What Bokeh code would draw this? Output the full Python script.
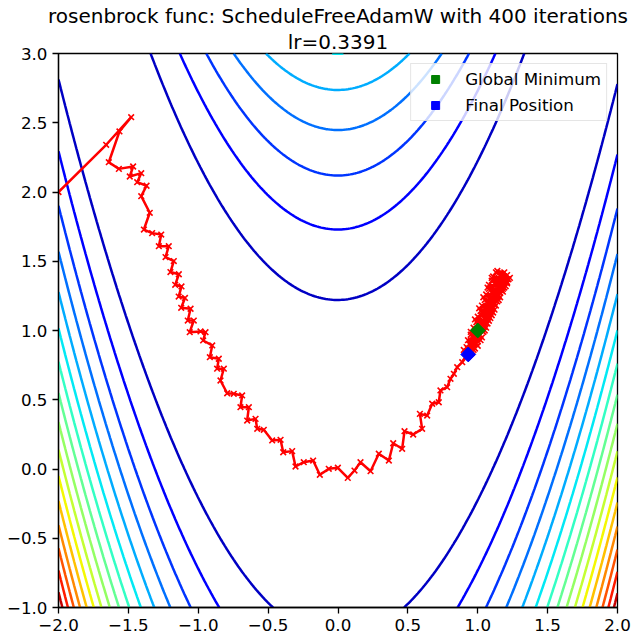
import numpy as np
from bokeh.plotting import figure
from bokeh.models import Range1d, FixedTicker, Title, Legend, LegendItem
from bokeh.embed import file_html
from bokeh.resources import INLINE

# ---------------- data ----------------
x_ticks = [-2.0, -1.5, -1.0, -0.5, 0.0, 0.5, 1.0, 1.5, 2.0]
x_tick_labels = ["\u22122.0", "\u22121.5", "\u22121.0", "\u22120.5", "0.0", "0.5", "1.0", "1.5", "2.0"]
y_ticks = [-1.0, -0.5, 0.0, 0.5, 1.0, 1.5, 2.0, 2.5, 3.0]
y_tick_labels = ["\u22121.0", "\u22120.5", "0.0", "0.5", "1.0", "1.5", "2.0", "2.5", "3.0"]

contour_levels = [150, 300, 450, 600, 750, 900, 1050, 1200, 1350, 1500,
                  1650, 1800, 1950, 2100, 2250, 2400]
level_norm_min = 0
level_norm_max = 2550

path_x = [-2.000, -1.659, -1.480, -1.564, -1.640, -1.568, -1.466, -1.490, -1.408, -1.437,
          -1.370, -1.408, -1.347, -1.389, -1.330, -1.265, -1.282, -1.211, -1.234, -1.175,
          -1.199, -1.139, -1.165, -1.120, -1.140, -1.095, -1.122, -1.055, -1.075, -1.032,
          -1.061, -0.984, -0.948, -0.965, -0.900, -0.917, -0.853, -0.865, -0.817, -0.841,
          -0.793, -0.746, -0.686, -0.698, -0.638, -0.650, -0.590, -0.578, -0.531, -0.471,
          -0.411, -0.392, -0.328, -0.304, -0.245, -0.178, -0.130, -0.066, -0.001, 0.070,
          0.118, 0.161, 0.233, 0.292, 0.364, 0.395, 0.459, 0.476, 0.538, 0.602,
          0.586, 0.638, 0.674, 0.721, 0.733, 0.781, 0.805, 0.829, 0.853, 0.889,
          0.912,
          0.90, 0.97, 0.93, 1.01, 0.97, 1.05, 1.00, 1.09, 1.03, 1.12,
          1.06, 1.16, 1.08, 1.20, 1.11, 1.22, 1.14, 1.19,
          1.17, 1.21, 1.13, 1.18, 1.10, 1.15, 1.07, 1.12, 1.04, 1.09,
          1.01, 1.06, 0.98, 1.03, 0.95, 1.00, 0.93, 0.96, 0.95,
          0.92, 0.99, 0.95, 1.02, 0.98, 1.06, 1.01, 1.09, 1.04, 1.13,
          1.07, 1.16, 1.10, 1.19, 1.13, 1.21,
          1.17, 1.20, 1.14, 1.17, 1.11, 1.14, 1.08, 1.11, 1.05, 1.08,
          1.02, 1.05, 0.99, 1.02, 0.96, 0.98, 0.93,
          0.99, 0.95, 1.03, 0.99, 1.07, 1.02, 1.10, 1.05, 1.14, 1.08,
          1.18, 1.10, 1.21, 1.16, 1.23,
          1.15, 1.19, 1.12, 1.16, 1.09, 1.13, 1.06, 1.10, 1.03, 1.07,
          1.00, 1.04, 0.97, 1.00, 0.94, 0.97, 0.932]
path_y = [2.000, 2.341, 2.540, 2.437, 2.215, 2.167, 2.184, 2.112, 2.136, 2.071,
          2.045, 1.970, 1.850, 1.729, 1.703, 1.693, 1.609, 1.609, 1.530, 1.501,
          1.422, 1.406, 1.330, 1.318, 1.245, 1.235, 1.164, 1.157, 1.072, 1.072,
          0.988, 0.993, 0.988, 0.928, 0.892, 0.807, 0.796, 0.724, 0.724, 0.639,
          0.547, 0.543, 0.531, 0.446, 0.446, 0.350, 0.362, 0.290, 0.283, 0.206,
          0.211, 0.121, 0.129, 0.018, 0.049, 0.061, -0.042, 0.001, 0.009, -0.064,
          -0.011, 0.049, -0.016, 0.110, 0.061, 0.186, 0.146, 0.273, 0.249, 0.290,
          0.398, 0.386, 0.471, 0.482, 0.567, 0.591, 0.651, 0.687, 0.735, 0.771,
          0.807,
          0.86, 0.88, 0.93, 0.96, 1.02, 1.05, 1.10, 1.13, 1.18, 1.20,
          1.26, 1.27, 1.33, 1.32, 1.39, 1.37, 1.43, 1.42,
          1.36, 1.34, 1.33, 1.28, 1.27, 1.22, 1.21, 1.15, 1.14, 1.09,
          1.07, 1.02, 1.00, 0.95, 0.93, 0.89, 0.87, 0.85, 0.86,
          0.88, 0.94, 0.99, 1.03, 1.08, 1.12, 1.16, 1.19, 1.24, 1.27,
          1.31, 1.33, 1.38, 1.39, 1.42, 1.40,
          1.41, 1.36, 1.35, 1.29, 1.28, 1.21, 1.20, 1.13, 1.13, 1.07,
          1.06, 1.00, 0.99, 0.93, 0.92, 0.87, 0.85,
          0.91, 0.97, 1.00, 1.06, 1.09, 1.14, 1.17, 1.22, 1.24, 1.30,
          1.30, 1.36, 1.35, 1.40, 1.38,
          1.38, 1.31, 1.30, 1.24, 1.24, 1.18, 1.17, 1.11, 1.11, 1.05,
          1.04, 0.99, 0.97, 0.92, 0.90, 0.86, 0.827]

global_min_x = [1.0]
global_min_y = [1.0]
final_x = [0.932]
final_y = [0.827]

title_line1 = "rosenbrock func: ScheduleFreeAdamW with 400 iterations"
title_line2 = "lr=0.3391"

# Rosenbrock surface on a grid (the function being contoured)
grid_x = np.linspace(-2, 2, 250)
grid_y = np.linspace(-1, 3, 250)
GX, GY = np.meshgrid(grid_x, grid_y)
GZ = (1 - GX) ** 2 + 100 * (GY - GX ** 2) ** 2


# jet colormap (styling)
def jet(t):
    r = np.interp(t, [0, 0.35, 0.66, 0.89, 1.0], [0, 0, 1, 1, 0.5])
    g = np.interp(t, [0, 0.125, 0.375, 0.64, 0.91, 1.0], [0, 0, 1, 1, 0, 0])
    b = np.interp(t, [0, 0.11, 0.34, 0.65, 1.0], [0.5, 1, 1, 0, 0])
    return "#%02x%02x%02x" % (int(round(r * 255)), int(round(g * 255)), int(round(b * 255)))


level_colors = [jet((lv - level_norm_min) / (level_norm_max - level_norm_min)) for lv in contour_levels]

FONT = "DejaVu Sans"
TICK_FS = "16.7px"
TITLE_FS = "20px"

p = figure(width=635, height=643, x_range=Range1d(-2, 2), y_range=Range1d(-1, 3),
           output_backend="svg", toolbar_location=None,
           min_border_left=58, min_border_right=18, min_border_bottom=36, min_border_top=53)

p.title.text = title_line1
p.title.align = "center"
p.title.text_font = FONT
p.title.text_font_size = TITLE_FS
p.title.text_font_style = "normal"
p.title.text_color = "black"
p.title.standoff = 0
p.title.text_line_height = 0.9
p.add_layout(Title(text=title_line2, align="center", text_font=FONT, text_font_size=TITLE_FS,
                   text_font_style="normal", text_color="black", standoff=0,
                   text_line_height=0.9), "above")

p.xgrid.visible = False
p.ygrid.visible = False
p.outline_line_color = "black"
p.outline_line_width = 1.3
p.background_fill_color = "white"
p.border_fill_color = "white"

for ax, ticks, labels in ((p.xaxis, x_ticks, x_tick_labels), (p.yaxis, y_ticks, y_tick_labels)):
    ax.ticker = FixedTicker(ticks=ticks)
    ax.major_label_overrides = {t: l for t, l in zip(ticks, labels)}
    ax.major_label_text_font = FONT
    ax.major_label_text_font_size = TICK_FS
    ax.major_label_text_color = "black"
    ax.major_tick_out = 6
    ax.major_tick_in = 0
    ax.major_tick_line_width = 1.3
    ax.major_tick_line_color = "black"
    ax.minor_tick_line_color = None
    ax.axis_line_color = "black"
    ax.axis_line_width = 1.3
    ax.major_label_standoff = 5

p.contour(grid_x, grid_y, GZ, levels=contour_levels, line_color=level_colors, line_width=2.5)

p.line(path_x, path_y, line_color="#ff0000", line_width=2.5)
p.scatter(path_x, path_y, marker="x", size=8, line_color="#ff0000", line_width=1.6)

r_min = p.scatter(global_min_x, global_min_y, marker="square", size=10.5, angle=np.pi / 4,
                  fill_color="#008000", line_color="#008000", line_width=1)
r_fin = p.scatter(final_x, final_y, marker="square", size=10.5, angle=np.pi / 4,
                  fill_color="#0000ff", line_color="#0000ff", line_width=1)

legend = Legend(items=[LegendItem(label="Global Minimum", renderers=[r_min]),
                       LegendItem(label="Final Position", renderers=[r_fin])],
                location="top_right")
legend.label_text_font = FONT
legend.label_text_font_size = TICK_FS
legend.label_text_color = "black"
legend.padding = 5
legend.spacing = 6
legend.glyph_width = 38
legend.glyph_height = 20
legend.label_standoff = 11
legend.label_height = 20
legend.border_line_color = "#cccccc"
legend.border_line_width = 1
legend.background_fill_alpha = 0.8
legend.margin = 10
p.add_layout(legend)

open("out.html", "w").write(file_html(p, INLINE))
